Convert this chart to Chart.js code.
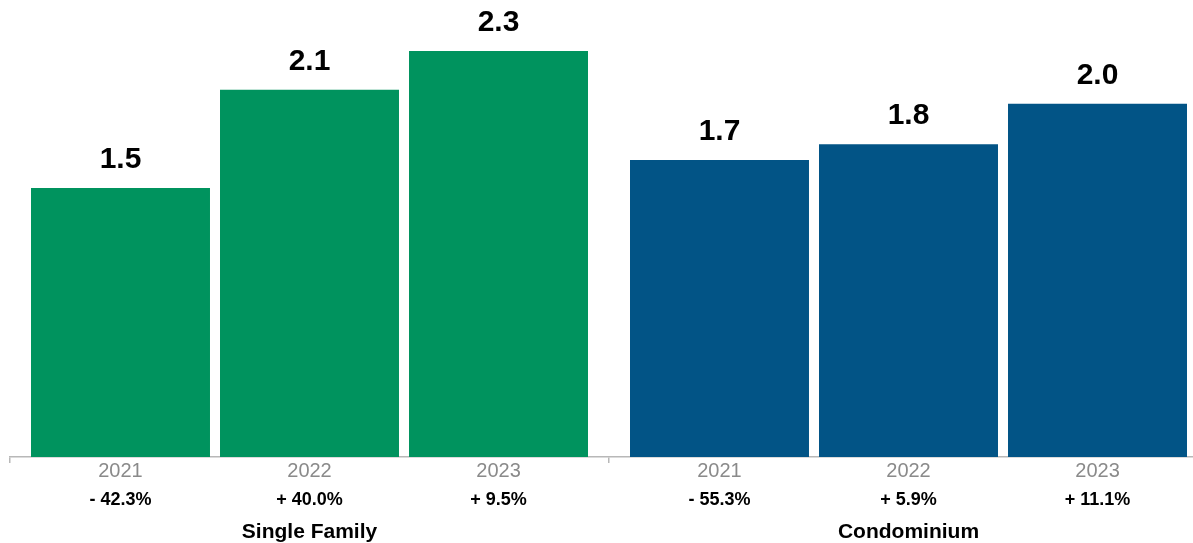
<!DOCTYPE html>
<html lang="en">
<head>
    <meta charset="UTF-8">
    <title>Sales by Year</title>
    <script src="https://cdn.jsdelivr.net/npm/chart.js"></script>
    <style>
        html, body { margin: 0; padding: 0; background: #fff; overflow: hidden; }
        .wrap { width: 1208px; height: 543px; position: relative; }
    </style>
</head>
<body>
    <div class="wrap"><canvas id="salesChart"></canvas></div>

    <script>
        const groups = ["Single Family", "Condominium"];
        const years = ["2021", "2022", "2023"];
        const singleFamily = [1.53, 2.09, 2.31];
        const condominium = [1.69, 1.78, 2.01];
        const singleFamilyChange = ["- 42.3%", "+ 40.0%", "+ 9.5%"];
        const condominiumChange = ["- 55.3%", "+ 5.9%", "+ 11.1%"];

        const groupColors = ["#00935E", "#025486"];
        const FONT = "'Liberation Sans', Arial, Helvetica, sans-serif";

        // one dataset per year so bars sit side by side inside each group
        const datasets = years.map((yr, i) => ({
            label: yr,
            data: [singleFamily[i], condominium[i]],
            backgroundColor: groupColors,
            categoryPercentage: 0.9466,
            barPercentage: 0.947
        }));

        const labelPlugin = {
            id: "barLabels",
            afterDatasetsDraw(chart) {
                const ctx = chart.ctx;
                const bottom = chart.chartArea.bottom;
                const changes = [singleFamilyChange, condominiumChange];
                ctx.save();
                ctx.textAlign = "center";
                ctx.textBaseline = "alphabetic";
                chart.data.datasets.forEach((ds, i) => {
                    const meta = chart.getDatasetMeta(i);
                    meta.data.forEach((bar, j) => {
                        ctx.fillStyle = "#000";
                        ctx.font = "bold 30px " + FONT;
                        ctx.fillText(ds.data[j].toFixed(1), bar.x, bar.y - 20);

                        ctx.fillStyle = "#8a8a8a";
                        ctx.font = "20px " + FONT;
                        ctx.fillText(years[i], bar.x, bottom + 20);

                        ctx.fillStyle = "#000";
                        ctx.font = "bold 18px " + FONT;
                        ctx.fillText(changes[j][i], bar.x, bottom + 48);
                    });
                });
                const xs = chart.scales.x;
                ctx.font = "bold 21px " + FONT;
                ctx.fillStyle = "#000";
                groups.forEach((g, k) => {
                    ctx.fillText(g, xs.getPixelForValue(k), bottom + 81);
                });
                ctx.restore();
            }
        };

        new Chart(document.getElementById("salesChart"), {
            type: "bar",
            data: { labels: groups, datasets: datasets },
            options: {
                responsive: true,
                maintainAspectRatio: false,
                animation: false,
                layout: { padding: { left: 10, right: 0, top: 0, bottom: 80 } },
                plugins: {
                    legend: { display: false },
                    tooltip: { enabled: false }
                },
                scales: {
                    x: {
                        ticks: { display: false },
                        grid: {
                            drawOnChartArea: false,
                            tickLength: 6,
                            color: "#b8b8b8",
                            lineWidth: 1.5
                        },
                        border: { color: "#b8b8b8", width: 1.5 }
                    },
                    y: {
                        display: false,
                        min: 0,
                        max: 2.6
                    }
                }
            },
            plugins: [labelPlugin]
        });
    </script>
</body>
</html>
